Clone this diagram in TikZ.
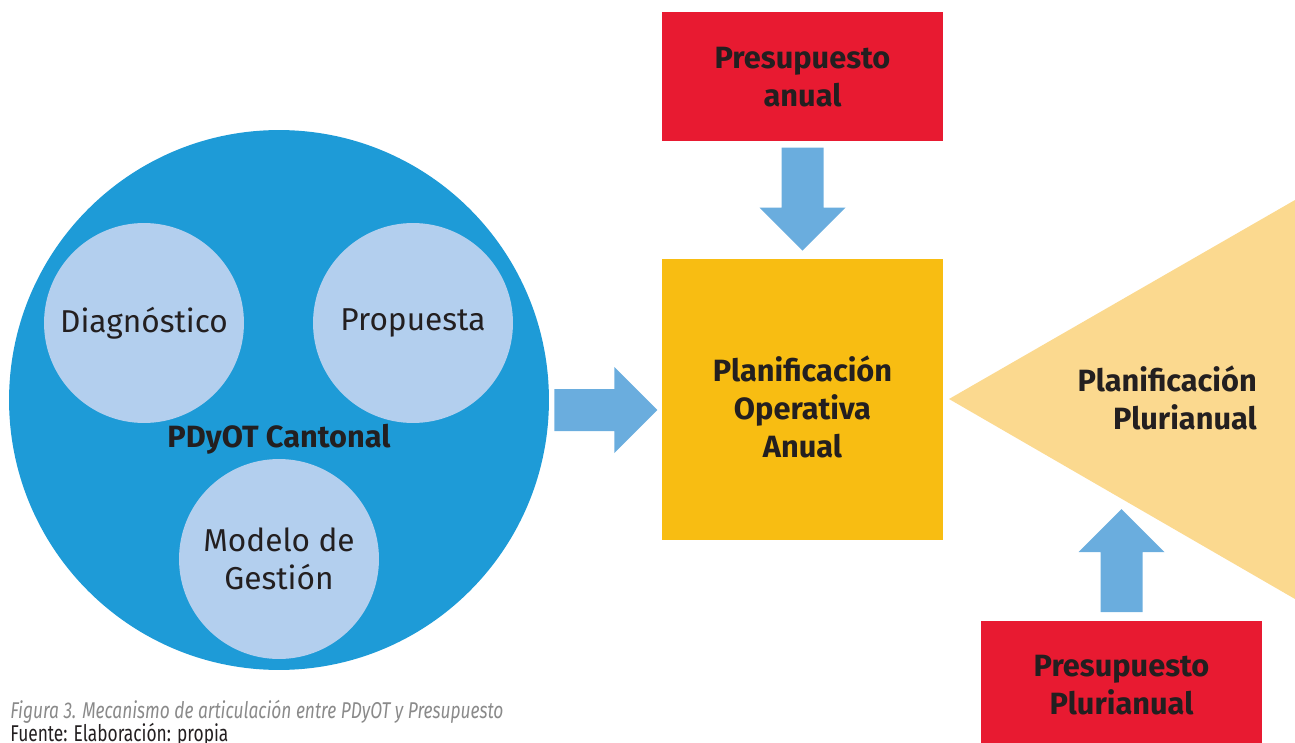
\documentclass[tikz,border=0pt]{standalone}
\usepackage{fontspec}
\setmainfont{Fira Sans}
\newfontfamily\capfont[FakeStretch=0.76]{Fira Sans}
\usetikzlibrary{positioning,calc}
\definecolor{circblue}{HTML}{1E9BD7}
\definecolor{lightblue}{HTML}{B3CFEE}
\definecolor{arrowblue}{HTML}{6AADDE}
\definecolor{poayellow}{HTML}{F8BD12}
\definecolor{pluriyellow}{HTML}{FBD98F}
\definecolor{budgetred}{HTML}{E81A31}
\definecolor{textdark}{HTML}{231F20}
\definecolor{captiongray}{HTML}{8A8A8A}

\tikzset{
  part/.style={circle, fill=lightblue, minimum size=4cm, inner sep=0pt, align=center,
    font=\fontsize{18}{21.5}\selectfont, text=textdark},
  budget/.style={rectangle, fill=budgetred, minimum width=5.62cm, minimum height=2.58cm,
    align=center, font=\bfseries\fontsize{17.5}{21.5}\selectfont, text=textdark},
  boldtext/.style={align=center, font=\bfseries\fontsize{17.5}{21.5}\selectfont, text=textdark},
  blockarrow/.pic={\fill[arrowblue] (0,-21) -- (60,-21) -- (60,-43) -- (103,0) -- (60,43) -- (60,21) -- (0,21) -- cycle;}
}

\begin{document}
\begin{tikzpicture}[x=0.02cm, y=-0.02cm]
      \useasboundingbox (0,0) rectangle (1295,743);

      \node[circle, fill=circblue, minimum size=10.8cm, inner sep=0pt] (pdyot) at (279,400) {};
      \node[part] (diag) at (144,323) {Diagnóstico};
      \node[part] (prop) at (413,323) {Propuesta};
      \node[part] (modelo) at (279,559) {Modelo de\\Gestión};
      \node[boldtext] (pdyotname) at (279,439) {PDyOT Cantonal};

      \node[rectangle, fill=poayellow, minimum size=5.62cm] (poa) at (802.5,399.5) {};
      \node[boldtext] (poaname) at (802.5,407) {Planificación\\Operativa\\Anual};
      \node[budget, above=2.34cm of poa] (anual) {Presupuesto\\anual};

      \fill[pluriyellow] (949,399) coordinate (tip) -- (1295,200) -- (1295,599) -- cycle;
      \node[boldtext, align=right, anchor=east] (pluriplan) at (1263,398) {Planificación\\Plurianual};
      \node[budget] (pluri) at (1121.5,685) {Presupuesto\\Plurianual};

      \pic at ($(pdyot.east)+(5,10)$) {blockarrow};
      \pic[rotate=-90] at ($(anual.south)+(0,6)$) {blockarrow};
      \pic[rotate=90] at ($(pluri.north)+(0,-8)$) {blockarrow};

      \node[anchor=base west, inner sep=0pt, text=captiongray, font=\capfont\itshape\fontsize{13}{15}\selectfont] (caption) at (10,718) {Figura 3. Mecanismo de articulación entre PDyOT y Presupuesto};
      \node[anchor=base west, inner sep=0pt, text=textdark, font=\capfont\fontsize{13}{15}\selectfont] (source) at (10,741) {Fuente: Elaboración: propia};

    \end{tikzpicture}
\end{document}
